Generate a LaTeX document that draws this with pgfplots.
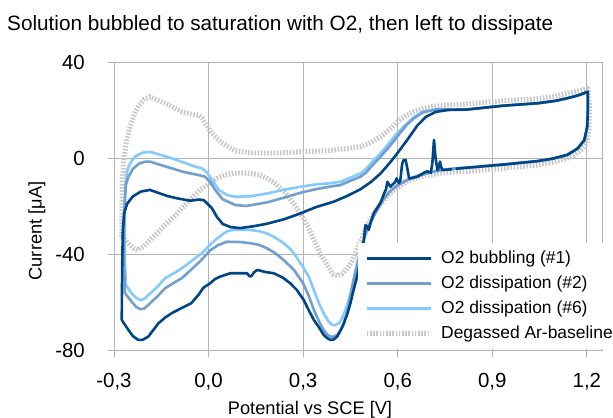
\documentclass[border=0pt]{standalone}
\usepackage{fontspec}
\setmainfont{Liberation Sans}
\usepackage{pgfplots}
\pgfplotsset{compat=1.18}
\definecolor{cA}{HTML}{004586}
\definecolor{cB}{HTML}{729FCF}
\definecolor{cC}{HTML}{83CAFF}
\definecolor{cG}{HTML}{C8C8C8}
\definecolor{gridc}{HTML}{B3B3B3}
\begin{document}
\begin{tikzpicture}[x=1bp,y=1bp]
\path[use as bounding box] (0,0) rectangle (613,417);
\node[anchor=base west, font=\fontsize{20.8}{25}\selectfont, inner sep=0pt] at (7,386.5) {Solution bubbled to saturation with O2, then left to dissipate};
\node[anchor=base, font=\fontsize{18.3}{22}\selectfont, inner sep=0pt] at (310,2.3) {Potential vs SCE [V]};
\node[anchor=base, rotate=90, font=\fontsize{18.3}{22}\selectfont, inner sep=0pt] at (41.7,186) {Current [μA]};
\begin{axis}[
  at={(114bp,67bp)}, anchor=south west, scale only axis,
  width=488bp, height=288bp,
  xmin=-0.3, xmax=1.248, ymin=-80, ymax=40,
  axis line style={gridc, line width=0.8bp},
  grid=major, major grid style={gridc, line width=0.8bp},
  tick style={gridc, line width=0.8bp},
  tick align=outside, major tick length=6.5bp,
  tick pos=left,
  xtick={-0.3,0,0.3,0.6,0.9,1.2},
  xticklabels={{-0,3},{0,0},{0,3},{0,6},{0,9},{1,2}},
  ytick={-80,-40,0,40},
  yticklabels={-80,-40,0,40},
  ticklabel style={font=\fontsize{20.5}{24}\selectfont, inner sep=0pt},
  xticklabel style={anchor=north, yshift=-17bp},
  yticklabel style={anchor=east, xshift=-22.5bp},
  reverse legend,
  legend cell align=left,
  legend image code/.code={\draw[#1] (0bp,0bp) -- (64bp,0bp);},
  legend style={at={(axis description cs:0.500,0.3715)}, anchor=north west,
    draw=none, fill=white, inner xsep=6bp, inner ysep=7bp,
    row sep=8bp, column sep=8bp,
    font=\fontsize{17.5}{21}\selectfont,
    nodes={inner sep=0pt, text height=13bp, text depth=4bp}},
  every axis plot/.append style={line join=round},
]
% Degassed Ar-baseline
\addplot[cG, line width=5bp, dash pattern=on 1.6bp off 1.6bp] coordinates {
(-0.2755,-32.8) (-0.275,-25) (-0.273,-10) (-0.270,-3) (-0.268,0.6) (-0.260,7)
(-0.249,13) (-0.236,18) (-0.223,21.4) (-0.205,24.5) (-0.186,25.5) (-0.165,24.3)
(-0.138,22.8) (-0.110,21) (-0.085,19.3) (-0.055,18.3) (-0.032,17.9) (-0.020,16.5)
(-0.011,14.4) (0.005,11.3) (0.021,8.9) (0.040,6.5) (0.063,4.7) (0.085,3)
(0.130,2.2) (0.185,2) (0.240,2.2) (0.291,2.6) (0.340,2.8) (0.397,3.3)
(0.440,4) (0.482,4.7) (0.515,6.5) (0.546,8.9) (0.575,12) (0.599,15.1)
(0.625,17.5) (0.651,19.3) (0.680,20.6) (0.704,21.4) (0.760,22) (0.829,22.6)
(0.935,23.9) (1.043,24.6) (1.100,25.8) (1.138,27) (1.175,28) (1.203,29)
(1.208,22) (1.207,12) (1.200,6) (1.181,3.3) (1.160,1.2) (1.138,-0.1)
(1.090,-1.8) (1.043,-2.9) (0.937,-4.3) (0.832,-5.5) (0.760,-6.0) (0.700,-7.0)
(0.662,-8.2) (0.630,-9.8) (0.599,-12.3) (0.575,-14.8) (0.546,-18.9) (0.525,-23)
(0.503,-28) (0.490,-32) (0.471,-38) (0.455,-43) (0.440,-46) (0.425,-48.2)
(0.408,-49) (0.395,-48.5) (0.376,-44.5) (0.355,-40) (0.334,-34) (0.315,-28.5)
(0.300,-25) (0.285,-22) (0.270,-19) (0.250,-15.5) (0.228,-12.5) (0.205,-10)
(0.185,-8.5) (0.160,-7) (0.132,-6.4) (0.100,-6.2) (0.079,-6.4) (0.050,-7.2)
(0.026,-8.5) (0.000,-10.8) (-0.027,-13.3) (-0.055,-17) (-0.080,-20.3) (-0.105,-23.8)
(-0.132,-27.2) (-0.160,-30.8) (-0.186,-34.2) (-0.205,-36.8) (-0.223,-38.3) (-0.236,-37.8)
(-0.249,-36.3) (-0.262,-34.5) (-0.2755,-32.8)
};
\addlegendentry{Degassed Ar-baseline}
% O2 dissipation #6
\addplot[cC, line width=2.6bp] coordinates {
(-0.262,-52.9) (-0.266,-42) (-0.266,-25) (-0.264,-12) (-0.259,-6) (-0.254,-3.6)
(-0.240,-0.5) (-0.233,0.6) (-0.210,2.2) (-0.186,2.6) (-0.150,1.2) (-0.117,-0.1)
(-0.080,-1.8) (-0.043,-3.6) (-0.021,-4.3) (-0.005,-6) (0.010,-9) (0.032,-13.3)
(0.060,-15.5) (0.085,-16.1) (0.130,-16) (0.185,-14.8) (0.240,-13.2) (0.291,-12)
(0.340,-11) (0.387,-10.5) (0.418,-9.9) (0.450,-8.2) (0.482,-6.4) (0.500,-4.5)
(0.520,-1.5) (0.546,2) (0.575,6.5) (0.599,10.5) (0.630,14.4) (0.651,17)
(0.680,19.3) (0.720,20.2) (0.760,20.2) (0.820,20.2) (0.935,21.8) (1.043,22.8)
(1.100,23.8) (1.138,24.9) (1.175,26.2) (1.203,27.6)
(1.203,20) (1.201,13) (1.192,7.5) (1.171,4.0) (1.138,1.3) (1.090,-0.3)
(1.043,-1.3) (0.937,-2.7) (0.832,-3.9) (0.770,-4.5) (0.736,-5.0) (0.700,-6.0)
(0.662,-7.4) (0.630,-9.0) (0.599,-11.2) (0.575,-13.8) (0.556,-16.5) (0.535,-21)
(0.515,-26.3) (0.500,-31) (0.490,-35) (0.480,-39) (0.471,-43.9) (0.463,-49)
(0.455,-53.6) (0.445,-59) (0.434,-63.3) (0.425,-66.5) (0.413,-68.9) (0.402,-69.6)
(0.392,-69.6) (0.380,-68) (0.365,-64.7) (0.350,-60.5) (0.334,-55) (0.318,-49.5)
(0.300,-45.5) (0.280,-41.5) (0.260,-38) (0.238,-35.5) (0.210,-33) (0.185,-31.4)
(0.160,-30.5) (0.132,-30) (0.100,-29.8) (0.075,-30) (0.058,-30.6) (0.042,-32)
(0.020,-34.3) (0.000,-36.8) (-0.020,-39.5) (-0.043,-41.8) (-0.085,-46) (-0.110,-48)
(-0.138,-50.1) (-0.165,-54) (-0.191,-57.1) (-0.205,-58.8) (-0.217,-59.2) (-0.230,-58.2)
(-0.244,-56.4) (-0.262,-52.9)
};
\addlegendentry{O2 dissipation (\#6)}
% O2 dissipation #2
\addplot[cB, line width=2.6bp] coordinates {
(-0.265,-56.4) (-0.268,-45) (-0.268,-30) (-0.266,-18) (-0.262,-11) (-0.254,-7.8)
(-0.240,-4.5) (-0.220,-2.3) (-0.200,-1.5) (-0.186,-1.5) (-0.150,-3) (-0.117,-4.3)
(-0.080,-5.8) (-0.032,-7.1) (-0.011,-7.8) (0.005,-10) (0.021,-13.3) (0.045,-17.2)
(0.085,-19.6) (0.120,-20) (0.185,-18.5) (0.240,-16.5) (0.291,-14.5) (0.340,-13)
(0.387,-11.9) (0.418,-11.3) (0.450,-9.5) (0.482,-7.8) (0.500,-6) (0.520,-3)
(0.546,0.6) (0.575,5) (0.599,9) (0.630,14) (0.651,16.5) (0.680,19)
(0.720,20.2) (0.760,20.2) (0.820,20.2) (0.935,21.8) (1.043,22.8) (1.100,23.8)
(1.138,24.9) (1.175,26.2) (1.203,27.6)
(1.203,20) (1.201,13) (1.192,7.5) (1.171,4.0) (1.138,1.3) (1.090,-0.3)
(1.043,-1.3) (0.937,-2.7) (0.832,-3.9) (0.770,-4.5) (0.736,-5.1) (0.700,-6.1)
(0.662,-7.6) (0.630,-9.2) (0.599,-11.4) (0.575,-14) (0.556,-17) (0.535,-21.5)
(0.515,-26.5) (0.500,-31) (0.490,-35) (0.482,-39.7) (0.470,-45.5) (0.460,-50.8)
(0.450,-58) (0.439,-64.7) (0.425,-70.5) (0.408,-73.7) (0.397,-74.4) (0.387,-74.4)
(0.376,-73.5) (0.365,-71.7) (0.350,-68) (0.334,-63.3) (0.318,-57.5) (0.300,-52.2)
(0.270,-46.5) (0.238,-42.5) (0.210,-39.5) (0.185,-37.6) (0.160,-36.2) (0.132,-35.5)
(0.100,-35) (0.058,-34.9) (0.030,-36.3) (0.005,-38.5) (-0.025,-42.8) (-0.055,-46.5)
(-0.085,-50.1) (-0.110,-52) (-0.138,-54.3) (-0.165,-58) (-0.191,-61.2) (-0.205,-62.8)
(-0.217,-63) (-0.230,-62) (-0.244,-59.9) (-0.255,-58) (-0.265,-56.4)
};
\addlegendentry{O2 dissipation (\#2)}
% O2 bubbling #1
\addplot[cA, line width=2.6bp, unbounded coords=jump] coordinates {
(-0.2755,-67.5) (-0.274,-45) (-0.272,-30) (-0.268,-23) (-0.258,-19) (-0.240,-16)
(-0.215,-14) (-0.186,-13.3) (-0.160,-14.5) (-0.132,-15.8) (-0.100,-16.8) (-0.058,-17.8)
(-0.030,-17.3) (-0.015,-17.6) (0.000,-19.5) (0.011,-21) (0.026,-24.5) (0.045,-27.5)
(0.070,-28.8) (0.100,-29.2) (0.140,-28.5) (0.185,-27.4) (0.240,-25.5) (0.291,-23.1)
(0.340,-20.5) (0.397,-18.2) (0.440,-15.8) (0.482,-13) (0.515,-10) (0.546,-6.4)
(0.575,-2) (0.599,2) (0.630,7.5) (0.662,13.5) (0.690,17.2) (0.720,19.2)
(0.760,20.0) (0.820,20.2) (0.935,21.8) (1.043,22.8) (1.100,23.8) (1.138,24.9)
(1.175,26.2) (1.203,27.6)
(1.203,20) (1.201,13) (1.192,7.5) (1.171,4.0) (1.138,1.3) (1.090,-0.3)
(1.043,-1.3) (0.937,-2.7) (0.832,-3.9) (0.790,-4.4) (0.784,-4.5) (0.779,nan)
(0.773,-4.7) (0.742,-5) (0.737,-3.5) (0.734,-1.5) (0.730,-4) (0.726,-5)
(0.720,0) (0.715,7.5) (0.710,-2) (0.705,-6.2) (0.695,-5.6) (0.689,-5.7)
(0.675,-6.8) (0.662,-7.8) (0.645,-8.3) (0.636,-8.5) (0.630,-4) (0.625,-0.8)
(0.618,-1) (0.614,-2.5) (0.608,-9.5) (0.604,-10.5) (0.600,-9.5) (0.596,-8.5)
(0.592,-10) (0.588,-10.5) (0.580,-11.5) (0.577,-12) (0.572,-11) (0.567,-9.9)
(0.563,-13) (0.556,-15) (0.546,-18.5) (0.535,-20.8) (0.524,-23) (0.515,-26.5)
(0.508,-30) (0.503,-28.5) (0.498,-27.9) (0.495,-31) (0.492,-35) (0.487,-38)
(0.482,-42.5) (0.471,-49.4) (0.460,-55) (0.450,-60.5) (0.440,-65) (0.429,-68.9)
(0.418,-72) (0.408,-74.4) (0.397,-75.6) (0.387,-75.8) (0.376,-75) (0.365,-73.7)
(0.350,-70.5) (0.334,-67.5) (0.318,-63.5) (0.302,-59.2) (0.280,-55) (0.259,-52.2)
(0.235,-49.8) (0.206,-48) (0.180,-47.5) (0.160,-46.8) (0.154,-46.7) (0.145,-47.5)
(0.136,-49.2) (0.130,-49.3) (0.122,-48) (0.100,-48) (0.085,-48) (0.069,-48)
(0.053,-48.7) (0.037,-49.4) (0.020,-50.5) (0.005,-52.2) (-0.016,-54) (-0.032,-57)
(-0.055,-60.5) (-0.085,-62.5) (-0.115,-64.5) (-0.138,-66.5) (-0.160,-69) (-0.191,-74.4)
(-0.210,-75.8) (-0.223,-75.8) (-0.240,-74.2) (-0.255,-71.5) (-0.2755,-67.5)
};
\addlegendentry{O2 bubbling (\#1)}
\end{axis}
\end{tikzpicture}
\end{document}
